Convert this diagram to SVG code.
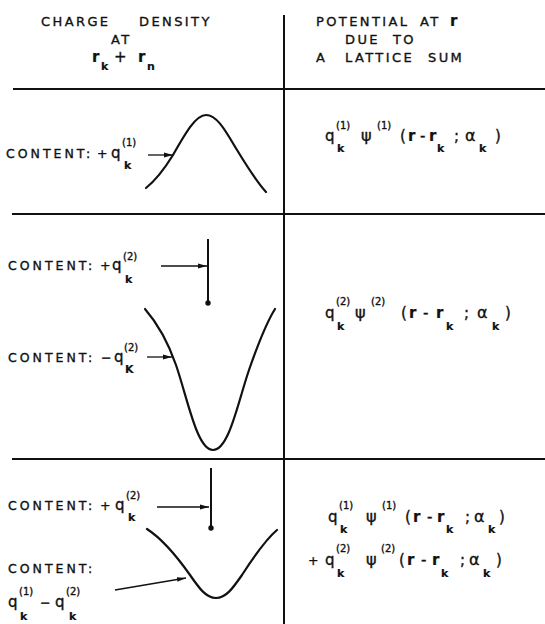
<svg xmlns="http://www.w3.org/2000/svg" width="545" height="624" viewBox="0 0 545 624">
<style>
text{font-family:"DejaVu Sans","Liberation Sans",sans-serif;fill:#111;stroke:#111;stroke-width:0.35}
.h{font-size:13px;letter-spacing:2.4px}
.l{font-size:12.5px;letter-spacing:3px}
.p{font-size:12.5px}
.m{font-size:15px}
.g{font-size:16px}
.s{font-size:10px}
.k{font-size:11px;font-weight:bold;stroke-width:0.2}
.v{font-weight:bold;font-size:15px;stroke-width:0.2}
.ln{stroke:#111;stroke-width:2;fill:none}
.c{stroke:#111;stroke-width:2.2;fill:none;stroke-linecap:round}
.a{stroke:#111;stroke-width:1.3;fill:none}
</style>
<defs>
<marker id="ah" markerUnits="userSpaceOnUse" markerWidth="9" markerHeight="6" refX="9" refY="3" orient="auto">
<path d="M0,0.6 L9,3 L0,5.4 z" fill="#111"/>
</marker>
</defs>

<g id="grid">
<line class="ln" x1="284" y1="15" x2="284" y2="624"/>
<line class="ln" x1="13" y1="89" x2="545" y2="89"/>
<line class="ln" x1="12" y1="214" x2="545" y2="214"/>
<line class="ln" x1="12" y1="459" x2="545" y2="459"/>
</g>

<g id="header-left">
<text class="h" x="41" y="26">CHARGE</text>
<text class="h" x="139" y="26">DENSITY</text>
<text class="h" x="111" y="44">AT</text>
<text><tspan class="v" x="92" y="62">r</tspan><tspan class="k" x="101" y="70">k</tspan><tspan class="m" x="114" y="62">+</tspan><tspan class="v" x="138" y="62">r</tspan><tspan class="k" x="147" y="70">n</tspan></text>
</g>

<g id="header-right">
<text class="h" x="316" y="26">POTENTIAL</text>
<text class="h" x="420" y="26">AT</text>
<text class="v" x="450" y="26">r</text>
<text class="h" x="345" y="44">DUE</text>
<text class="h" x="393" y="44">TO</text>
<text class="h" x="316" y="62">A</text>
<text class="h" x="345" y="62">LATTICE</text>
<text class="h" x="428" y="62">SUM</text>
</g>

<g id="row1-left">
<text class="l" x="6" y="158">CONTENT:</text>
<text><tspan class="p" x="97" y="158">+</tspan><tspan class="m" x="111" y="158">q</tspan><tspan class="s" x="122" y="146">(1)</tspan><tspan class="k" x="124" y="169">k</tspan></text>
<path class="c" d="M146,188 C156,180 165,168 173,155 C186,132 196,115 206,115 C216,115 224,128 234,145 C245,163 255,180 266,192"/>
</g>

<g id="row1-right">
<text><tspan class="m" x="325" y="141">q</tspan><tspan class="s" x="336" y="129">(1)</tspan><tspan class="k" x="337" y="152">k</tspan><tspan class="g" x="361" y="141">ψ</tspan><tspan class="s" x="377" y="129">(1)</tspan><tspan class="m" x="400" y="141">(</tspan><tspan class="v" x="408" y="141">r</tspan><tspan class="m" x="420" y="141">-</tspan><tspan class="v" x="429" y="141">r</tspan><tspan class="k" x="437" y="152">k</tspan><tspan class="m" x="454" y="141">;</tspan><tspan class="g" x="465" y="141">α</tspan><tspan class="k" x="479" y="152">k</tspan><tspan class="m" x="495" y="141">)</tspan></text>
</g>

<g id="row2-left">
<text class="l" x="8" y="270">CONTENT:</text>
<text><tspan class="p" x="100" y="270">+</tspan><tspan class="m" x="112" y="270">q</tspan><tspan class="s" x="123" y="260">(2)</tspan><tspan class="k" x="125" y="283">k</tspan></text>
<line class="ln" x1="208" y1="239" x2="208" y2="303"/>
<circle cx="208" cy="303" r="2.7" fill="#111"/>
<text class="l" x="8" y="362">CONTENT:</text>
<text><tspan class="p" x="101" y="362">−</tspan><tspan class="m" x="114" y="362">q</tspan><tspan class="s" x="124" y="351">(2)</tspan><tspan class="k" x="125" y="373">K</tspan></text>
<path class="c" d="M145,309 C158,324 168,342 176,365 C188,400 197,450 213,450 C229,450 238,402 249,370 C257,347 265,325 275,309"/>
</g>

<g id="row2-right">
<text><tspan class="m" x="325" y="318">q</tspan><tspan class="s" x="336" y="305">(2)</tspan><tspan class="k" x="337" y="330">k</tspan><tspan class="g" x="355" y="318">ψ</tspan><tspan class="s" x="371" y="305">(2)</tspan><tspan class="m" x="401" y="318">(</tspan><tspan class="v" x="409" y="318">r</tspan><tspan class="m" x="423" y="318">-</tspan><tspan class="v" x="436" y="318">r</tspan><tspan class="k" x="446" y="330">k</tspan><tspan class="m" x="464" y="318">;</tspan><tspan class="g" x="477" y="318">α</tspan><tspan class="k" x="492" y="330">k</tspan><tspan class="m" x="505" y="318">)</tspan></text>
</g>

<g id="row3-left">
<text class="l" x="8" y="510">CONTENT:</text>
<text><tspan class="p" x="100" y="510">+</tspan><tspan class="m" x="115" y="510">q</tspan><tspan class="s" x="126" y="499">(2)</tspan><tspan class="k" x="128" y="521">k</tspan></text>
<line class="ln" x1="211" y1="468" x2="211" y2="528"/>
<circle cx="211" cy="528" r="2.7" fill="#111"/>
<text class="l" x="8" y="573">CONTENT:</text>
<text><tspan class="m" x="8" y="607">q</tspan><tspan class="s" x="19" y="595">(1)</tspan><tspan class="k" x="20" y="620">k</tspan><tspan class="p" x="40" y="607">−</tspan><tspan class="m" x="55" y="607">q</tspan><tspan class="s" x="66" y="595">(2)</tspan><tspan class="k" x="69" y="620">k</tspan></text>
<path class="c" d="M147,529 C164,540 178,558 190,575 C199,588 206,598 216,598 C226,598 233,588 242,575 C253,558 265,540 277,530"/>
</g>

<g id="row3-right">
<text><tspan class="m" x="328" y="522">q</tspan><tspan class="s" x="339" y="509">(1)</tspan><tspan class="k" x="340" y="533">k</tspan><tspan class="g" x="366" y="522">ψ</tspan><tspan class="s" x="382" y="509">(1)</tspan><tspan class="m" x="405" y="522">(</tspan><tspan class="v" x="413" y="522">r</tspan><tspan class="m" x="427" y="522">-</tspan><tspan class="v" x="437" y="522">r</tspan><tspan class="k" x="446" y="533">k</tspan><tspan class="m" x="465" y="522">;</tspan><tspan class="g" x="474" y="522">α</tspan><tspan class="k" x="488" y="533">k</tspan><tspan class="m" x="499" y="522">)</tspan></text>
<text><tspan class="p" x="308" y="565">+</tspan><tspan class="m" x="325" y="565">q</tspan><tspan class="s" x="336" y="552">(2)</tspan><tspan class="k" x="337" y="577">k</tspan><tspan class="g" x="366" y="565">ψ</tspan><tspan class="s" x="381" y="552">(2)</tspan><tspan class="m" x="399" y="565">(</tspan><tspan class="v" x="407" y="565">r</tspan><tspan class="m" x="421" y="565">-</tspan><tspan class="v" x="432" y="565">r</tspan><tspan class="k" x="441" y="577">k</tspan><tspan class="m" x="460" y="565">;</tspan><tspan class="g" x="469" y="565">α</tspan><tspan class="k" x="483" y="577">k</tspan><tspan class="m" x="496" y="565">)</tspan></text>
</g>

<g id="connectors">
<line class="a" x1="148" y1="155" x2="173" y2="155" marker-end="url(#ah)"/>
<line class="a" x1="161" y1="266" x2="207" y2="266" marker-end="url(#ah)"/>
<line class="a" x1="147" y1="357" x2="172" y2="357" marker-end="url(#ah)"/>
<line class="a" x1="157" y1="507" x2="209" y2="507" marker-end="url(#ah)"/>
<line class="a" x1="115" y1="590" x2="186" y2="578" marker-end="url(#ah)"/>
</g>
</svg>
